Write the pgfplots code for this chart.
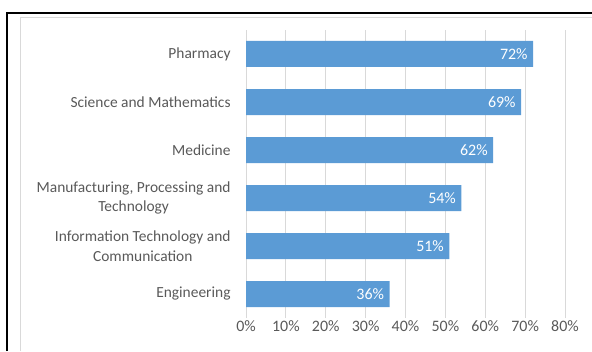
\documentclass[border=0pt]{standalone}
\usepackage{pgfplots}
\pgfplotsset{compat=1.18}
\usepackage{fontspec}
\setmainfont{Carlito}
\definecolor{barblue}{HTML}{5B9BD5}
\definecolor{txtgray}{HTML}{595959}
\definecolor{gridgray}{HTML}{D9D9D9}
\begin{document}
\begin{tikzpicture}[x=1bp,y=1bp]
\useasboundingbox (0,0) rectangle (592,351);
\draw[gridgray, line width=0.8bp] (20,0) -- (20,334) -- (592,334);
\draw[black, line width=2bp] (7,0) -- (7,338) -- (592,338);
\begin{axis}[
  at={(246bp,33bp)}, anchor=south west,
  scale only axis, width=319bp, height=288bp,
  xbar, bar width=26bp,
  xmin=0, xmax=80, ymin=-0.5, ymax=5.5,
  xtick={0,10,...,80},
  xticklabel={\pgfmathprintnumber{\tick}\%},
  ytick={0,1,2,3,4,5},
  yticklabels={Engineering,{Information Technology and\\Communication},{Manufacturing, Processing and\\Technology},Medicine,Science and Mathematics,Pharmacy},
  yticklabel style={align=center, font=\fontsize{15.5}{20}\selectfont, text=txtgray, inner sep=0pt, xshift=-11bp},
  xticklabel style={font=\fontsize{16}{18}\selectfont, text=txtgray, inner sep=0pt, yshift=-2bp},
  /pgf/number format/assume math mode=true,
  axis line style={draw=none},
  tick style={draw=none},
  xmajorgrids, major grid style={gridgray, line width=0.8bp},
  nodes near coords={\pgfmathprintnumber{\pgfplotspointmeta}\%},
  point meta=explicit,
  nodes near coords style={anchor=east, text=white, font=\fontsize{16}{18}\selectfont, xshift=-2bp},
]
\addplot[fill=barblue, draw=none] table[meta index=2] {
x y m
36 0 36
51 1 51
54 2 54
62 3 62
69 4 69
72 5 72
};
\end{axis}
\end{tikzpicture}
\end{document}
